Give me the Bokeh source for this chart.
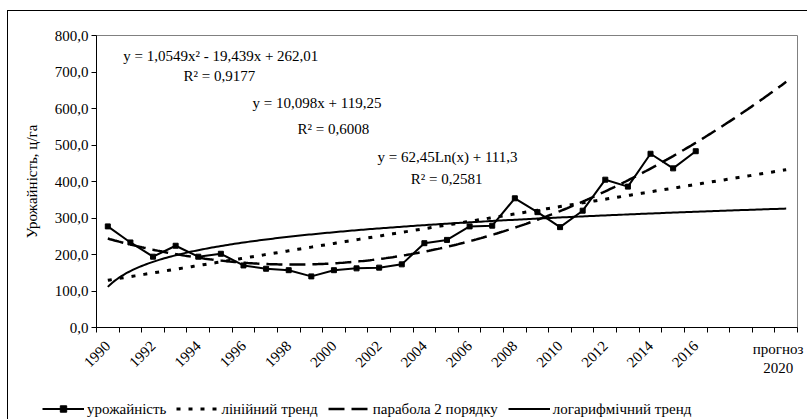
import numpy as np
from bokeh.plotting import figure
from bokeh.layouts import column
from bokeh.models import FixedTicker, LinearAxis, Range1d, Legend, LegendItem, Label
from bokeh.embed import file_html
from bokeh.resources import INLINE

# ---------------- data ----------------
years = list(range(1990, 2017))
period_index = list(range(1, 28))
yield_values = [277, 233, 194, 224, 194, 202, 170, 161, 157, 140,
                157, 162, 164, 173, 231, 240, 277, 279, 354, 316,
                275, 320, 405, 386, 476, 436, 483]
forecast_end_index = 31
x_tick_positions = list(range(1, 28, 2))
x_tick_labels = [str(y) for y in range(1990, 2017, 2)]
forecast_label = "прогноз\n2020"
y_ticks = [0, 100, 200, 300, 400, 500, 600, 700, 800]
y_tick_labels = ["0,0", "100,0", "200,0", "300,0", "400,0", "500,0", "600,0", "700,0", "800,0"]
linear_coef = [10.098, 119.25]            # a*x + b
parabola_coef = [1.0549, -19.439, 262.01]  # a*x^2 + b*x + c
log_coef = [62.45, 111.3]                  # a*ln(x) + b
equation_texts = ["y = 1,0549x² - 19,439x + 262,01", "R² = 0,9177",
                  "y = 10,098x + 119,25", "R² = 0,6008",
                  "y = 62,45Ln(x) + 111,3", "R² = 0,2581"]
series_names = ["урожайність", "лінійний тренд", "парабола 2 порядку", "логарифмічний тренд"]
y_axis_title = "Урожайність, ц/га"

FONT = "Liberation Serif"
FS = "15px"

# line styles
STY_DATA = dict(line_color="black", line_width=2)
STY_LIN = dict(line_color="black", line_width=3, line_dash="4 8")
STY_PAR = dict(line_color="black", line_width=2.5, line_dash="16 7")
STY_LOG = dict(line_color="black", line_width=2)
STY_MARK = dict(marker="square", size=5, fill_color="black", line_color="black")

# trend curves from the displayed trendline equations
xt = np.linspace(1, forecast_end_index, 301)
lin_y = linear_coef[0] * xt + linear_coef[1]
par_y = parabola_coef[0] * xt ** 2 + parabola_coef[1] * xt + parabola_coef[2]
log_y = log_coef[0] * np.log(xt) + log_coef[1]

p = figure(width=807, height=398, output_backend="svg", toolbar_location=None,
           x_range=Range1d(0.5, forecast_end_index + 0.5), y_range=Range1d(0, 800),
           min_border_left=96, min_border_right=10, min_border_top=35, min_border_bottom=71)
p.frame_align = False
p.border_fill_alpha = 0
p.xgrid.visible = False
p.ygrid.visible = False
p.outline_line_color = "#808080"
p.outline_line_width = 1
p.background_fill_color = "white"

# y axis
ya = p.yaxis[0]
ya.ticker = FixedTicker(ticks=y_ticks)
ya.major_label_overrides = {t: l for t, l in zip(y_ticks, y_tick_labels)}
ya.major_label_text_font = FONT
ya.major_label_text_font_size = FS
ya.major_label_text_color = "black"
ya.axis_line_color = "black"
ya.major_tick_line_color = "black"
ya.major_tick_in = 0
ya.major_tick_out = 5
ya.minor_tick_line_color = None
ya.major_label_standoff = 3
ya.axis_label = y_axis_title
ya.axis_label_text_font = FONT
ya.axis_label_text_font_size = FS
ya.axis_label_text_font_style = "normal"
ya.axis_label_text_color = "black"
ya.axis_label_standoff = 12

# x axis: rotated years at category centres, tick marks between categories
xa = p.xaxis[0]
xa.ticker = FixedTicker(ticks=x_tick_positions,
                        minor_ticks=[i + 0.5 for i in range(0, forecast_end_index + 1)])
xa.major_label_overrides = {t: l for t, l in zip(x_tick_positions, x_tick_labels)}
xa.major_label_orientation = np.pi / 4
xa.major_label_text_font = FONT
xa.major_label_text_font_size = FS
xa.major_label_text_color = "black"
xa.major_label_standoff = 11
xa.axis_line_color = "black"
xa.major_tick_line_color = None
xa.major_tick_in = 0
xa.major_tick_out = 5
xa.minor_tick_line_color = "black"
xa.minor_tick_in = 0
xa.minor_tick_out = 5

# forecast category label (horizontal, two lines)
xf = LinearAxis(ticker=FixedTicker(ticks=[forecast_end_index], minor_ticks=[]),
                major_label_overrides={forecast_end_index: forecast_label},
                major_label_orientation="horizontal",
                axis_line_color=None, major_tick_line_color=None, minor_tick_line_color=None,
                major_tick_in=0, major_tick_out=0,
                major_label_standoff=-34,
                major_label_text_font=FONT, major_label_text_font_size=FS,
                major_label_text_color="black")
p.add_layout(xf, "below")

# series
p.line(period_index, yield_values, **STY_DATA)
p.scatter(period_index, yield_values, **STY_MARK)
p.line(xt, lin_y, **STY_LIN)
p.line(xt, par_y, **STY_PAR)
p.line(xt, log_y, **STY_LOG)

# equations
eq_pos = [(1.68, 745), (4.35, 690), (7.4, 616), (9.39, 545), (12.93, 466), (14.4, 408)]
for (ex, ey), txt in zip(eq_pos, equation_texts):
    p.add_layout(Label(x=ex, y=ey, text=txt, text_align="left", text_baseline="middle",
                       text_font=FONT, text_font_size=FS, text_color="black"))

# legend strip (separate figure so it can sit below the axis labels);
# its proxy renderers use the same series but lie outside this strip's view
pl = figure(width=807, height=21, output_backend="svg", toolbar_location=None,
            x_range=Range1d(-100, -99), y_range=Range1d(-100, -99),
            min_border_left=42, min_border_right=0, min_border_top=0, min_border_bottom=0)
pl.frame_align = False
pl.axis.visible = False
pl.grid.visible = False
pl.outline_line_color = None
pl.background_fill_alpha = 0
pl.border_fill_alpha = 0
l_data = pl.line(period_index, yield_values, **STY_DATA)
l_mark = pl.scatter(period_index, yield_values, **STY_MARK)
l_lin = pl.line(xt, lin_y, **STY_LIN)
l_par = pl.line(xt, par_y, **STY_PAR)
l_log = pl.line(xt, log_y, **STY_LOG)
legend = Legend(items=[LegendItem(label=series_names[0], renderers=[l_data, l_mark]),
                       LegendItem(label=series_names[1], renderers=[l_lin]),
                       LegendItem(label=series_names[2], renderers=[l_par]),
                       LegendItem(label=series_names[3], renderers=[l_log])],
                orientation="horizontal", location="left",
                glyph_width=42, glyph_height=16, label_standoff=3, spacing=10,
                padding=0, margin=0, border_line_color=None, background_fill_alpha=0,
                label_text_font=FONT, label_text_font_size=FS, label_text_color="black")
pl.add_layout(legend, "center")

layout = column(p, pl, spacing=0,
                styles={"background": "linear-gradient(#000,#000) 7px 10px / 1px 100% no-repeat, "
                                      "linear-gradient(#000,#000) 7px 10px / 100% 1px no-repeat, white"})

open("out.html", "w").write(file_html(layout, INLINE))
